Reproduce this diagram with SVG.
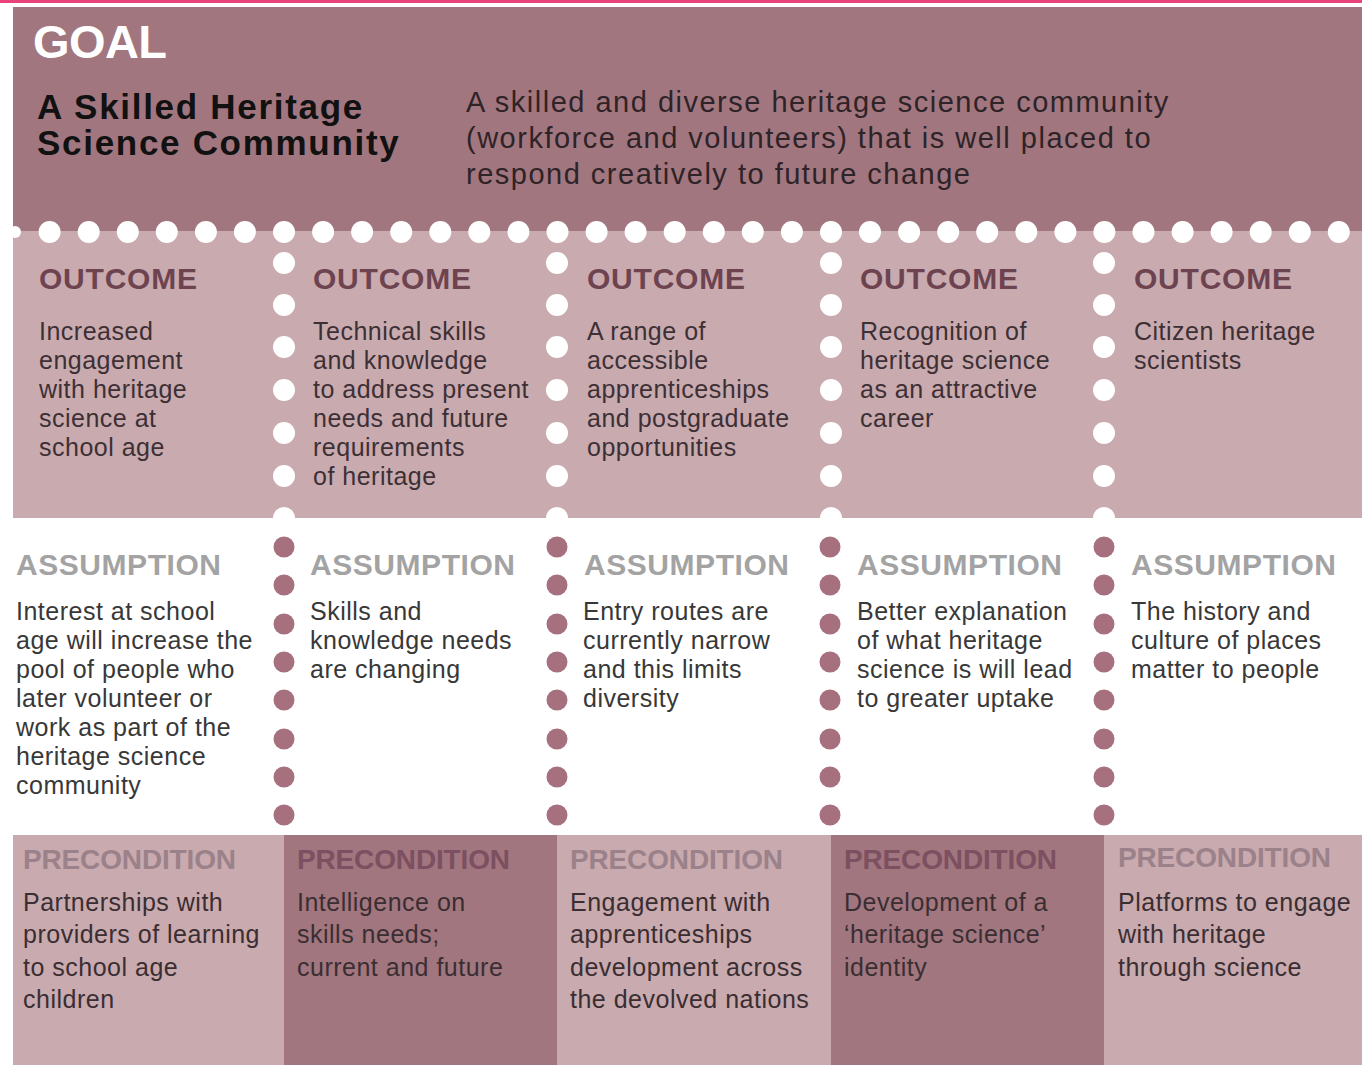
<svg xmlns="http://www.w3.org/2000/svg" width="1362" height="1065" viewBox="0 0 1362 1065">
<style>
text{font-family:"Liberation Sans",Arial,Helvetica,sans-serif}
.goal{font-size:47px;font-weight:bold;fill:#ffffff}
.title{font-size:35px;font-weight:bold;fill:#111111;letter-spacing:1.7px}
.desc{font-size:29px;fill:#2e2326;letter-spacing:1.5px}
.oh{font-size:30px;font-weight:bold;fill:#6d4350}
.ob{font-size:25px;fill:#3d3035;letter-spacing:0.5px}
.ah{font-size:30px;font-weight:bold;fill:#a3a3a3}
.ab{font-size:25px;fill:#383838;letter-spacing:0.5px}
.ph{font-size:28px;font-weight:bold}
.phl{fill:#9b8189}
.phd{fill:#7c5060}
.pb{font-size:25px;fill:#3a2e32;letter-spacing:0.5px}
.light{fill:#c9aaaf}
.dark{fill:#a1767f}
.wd{fill:#ffffff}
.md{fill:#a6707f}
</style>
<rect x="0" y="0" width="1362" height="1065" fill="#ffffff"/>
<rect x="0" y="0" width="1362" height="3" fill="#e8437a"/>

<g id="goal">
<rect class="dark" x="13" y="7" width="1349" height="224"/>
<text class="goal" x="33" y="58" textLength="134">GOAL</text>
<text class="title" x="37" y="119">A Skilled Heritage</text>
<text class="title" x="37" y="155">Science Community</text>
<text class="desc" x="466" y="112">A skilled and diverse heritage science community</text>
<text class="desc" x="466" y="148">(workforce and volunteers) that is well placed to</text>
<text class="desc" x="466" y="184">respond creatively to future change</text>
</g>

<rect class="light" x="13" y="231" width="1349" height="287"/>
<rect fill="#ffffff" x="13" y="518" width="1349" height="317"/>

<g id="outcome-1">
<text class="oh" x="39" y="289" textLength="158">OUTCOME</text>
<text class="ob" x="39" y="340">Increased</text>
<text class="ob" x="39" y="369">engagement</text>
<text class="ob" x="39" y="398">with heritage</text>
<text class="ob" x="39" y="427">science at</text>
<text class="ob" x="39" y="456">school age</text>
</g>
<g id="outcome-2">
<text class="oh" x="313" y="289" textLength="158">OUTCOME</text>
<text class="ob" x="313" y="340">Technical skills</text>
<text class="ob" x="313" y="369">and knowledge</text>
<text class="ob" x="313" y="398">to address present</text>
<text class="ob" x="313" y="427">needs and future</text>
<text class="ob" x="313" y="456">requirements</text>
<text class="ob" x="313" y="485">of heritage</text>
</g>
<g id="outcome-3">
<text class="oh" x="587" y="289" textLength="158">OUTCOME</text>
<text class="ob" x="587" y="340">A range of</text>
<text class="ob" x="587" y="369">accessible</text>
<text class="ob" x="587" y="398">apprenticeships</text>
<text class="ob" x="587" y="427">and postgraduate</text>
<text class="ob" x="587" y="456">opportunities</text>
</g>
<g id="outcome-4">
<text class="oh" x="860" y="289" textLength="158">OUTCOME</text>
<text class="ob" x="860" y="340">Recognition of</text>
<text class="ob" x="860" y="369">heritage science</text>
<text class="ob" x="860" y="398">as an attractive</text>
<text class="ob" x="860" y="427">career</text>
</g>
<g id="outcome-5">
<text class="oh" x="1134" y="289" textLength="158">OUTCOME</text>
<text class="ob" x="1134" y="340">Citizen heritage</text>
<text class="ob" x="1134" y="369">scientists</text>
</g>

<g id="assumption-1">
<text class="ah" x="16" y="575" textLength="205">ASSUMPTION</text>
<text class="ab" x="16" y="620">Interest at school</text>
<text class="ab" x="16" y="649">age will increase the</text>
<text class="ab" x="16" y="678">pool of people who</text>
<text class="ab" x="16" y="707">later volunteer or</text>
<text class="ab" x="16" y="736">work as part of the</text>
<text class="ab" x="16" y="765">heritage science</text>
<text class="ab" x="16" y="794">community</text>
</g>
<g id="assumption-2">
<text class="ah" x="310" y="575" textLength="205">ASSUMPTION</text>
<text class="ab" x="310" y="620">Skills and</text>
<text class="ab" x="310" y="649">knowledge needs</text>
<text class="ab" x="310" y="678">are changing</text>
</g>
<g id="assumption-3">
<text class="ah" x="584" y="575" textLength="205">ASSUMPTION</text>
<text class="ab" x="583" y="620">Entry routes are</text>
<text class="ab" x="583" y="649">currently narrow</text>
<text class="ab" x="583" y="678">and this limits</text>
<text class="ab" x="583" y="707">diversity</text>
</g>
<g id="assumption-4">
<text class="ah" x="857" y="575" textLength="205">ASSUMPTION</text>
<text class="ab" x="857" y="620">Better explanation</text>
<text class="ab" x="857" y="649">of what heritage</text>
<text class="ab" x="857" y="678">science is will lead</text>
<text class="ab" x="857" y="707">to greater uptake</text>
</g>
<g id="assumption-5">
<text class="ah" x="1131" y="575" textLength="205">ASSUMPTION</text>
<text class="ab" x="1131" y="620">The history and</text>
<text class="ab" x="1131" y="649">culture of places</text>
<text class="ab" x="1131" y="678">matter to people</text>
</g>

<g id="precondition-1">
<rect class="light" x="13" y="835" width="271" height="230"/>
<text class="ph phl" x="23" y="869" textLength="213">PRECONDITION</text>
<text class="pb" x="23" y="911">Partnerships with</text>
<text class="pb" x="23" y="943">providers of learning</text>
<text class="pb" x="23" y="976">to school age</text>
<text class="pb" x="23" y="1008">children</text>
</g>
<g id="precondition-2">
<rect class="dark" x="284" y="835" width="273" height="230"/>
<text class="ph phd" x="297" y="869" textLength="213">PRECONDITION</text>
<text class="pb" x="297" y="911">Intelligence on</text>
<text class="pb" x="297" y="943">skills needs;</text>
<text class="pb" x="297" y="976">current and future</text>
</g>
<g id="precondition-3">
<rect class="light" x="557" y="835" width="274" height="230"/>
<text class="ph phl" x="570" y="869" textLength="213">PRECONDITION</text>
<text class="pb" x="570" y="911">Engagement with</text>
<text class="pb" x="570" y="943">apprenticeships</text>
<text class="pb" x="570" y="976">development across</text>
<text class="pb" x="570" y="1008">the devolved nations</text>
</g>
<g id="precondition-4">
<rect class="dark" x="831" y="835" width="273" height="230"/>
<text class="ph phd" x="844" y="869" textLength="213">PRECONDITION</text>
<text class="pb" x="844" y="911">Development of a</text>
<text class="pb" x="844" y="943">‘heritage science’</text>
<text class="pb" x="844" y="976">identity</text>
</g>
<g id="precondition-5">
<rect class="light" x="1104" y="835" width="258" height="230"/>
<text class="ph phl" x="1118" y="867" textLength="213">PRECONDITION</text>
<text class="pb" x="1118" y="911">Platforms to engage</text>
<text class="pb" x="1118" y="943">with heritage</text>
<text class="pb" x="1118" y="976">through science</text>
</g>

<g id="connectors">
<g class="wd">
<circle cx="49.6" cy="232" r="11"/><circle cx="88.7" cy="232" r="11"/><circle cx="127.8" cy="232" r="11"/><circle cx="166.8" cy="232" r="11"/><circle cx="205.9" cy="232" r="11"/><circle cx="244.9" cy="232" r="11"/><circle cx="284" cy="232" r="11"/>
<circle cx="323.1" cy="232" r="11"/><circle cx="362.1" cy="232" r="11"/><circle cx="401.2" cy="232" r="11"/><circle cx="440.3" cy="232" r="11"/><circle cx="479.3" cy="232" r="11"/><circle cx="518.4" cy="232" r="11"/><circle cx="557.5" cy="232" r="11"/>
<circle cx="596.6" cy="232" r="11"/><circle cx="635.6" cy="232" r="11"/><circle cx="674.7" cy="232" r="11"/><circle cx="713.8" cy="232" r="11"/><circle cx="752.8" cy="232" r="11"/><circle cx="791.9" cy="232" r="11"/><circle cx="831" cy="232" r="11"/>
<circle cx="870" cy="232" r="11"/><circle cx="909.1" cy="232" r="11"/><circle cx="948.2" cy="232" r="11"/><circle cx="987.2" cy="232" r="11"/><circle cx="1026.3" cy="232" r="11"/><circle cx="1065.4" cy="232" r="11"/><circle cx="1104.4" cy="232" r="11"/>
<circle cx="1143.5" cy="232" r="11"/><circle cx="1182.6" cy="232" r="11"/><circle cx="1221.6" cy="232" r="11"/><circle cx="1260.7" cy="232" r="11"/><circle cx="1299.8" cy="232" r="11"/><circle cx="1338.8" cy="232" r="11"/>
<circle cx="15" cy="232" r="6"/>
</g>
<g class="wd">
<circle cx="284" cy="263" r="11"/><circle cx="284" cy="305" r="11"/><circle cx="284" cy="347" r="11"/><circle cx="284" cy="390" r="11"/><circle cx="284" cy="433" r="11"/><circle cx="284" cy="476" r="11"/><circle cx="284" cy="518" r="11"/>
<circle cx="557" cy="263" r="11"/><circle cx="557" cy="305" r="11"/><circle cx="557" cy="347" r="11"/><circle cx="557" cy="390" r="11"/><circle cx="557" cy="433" r="11"/><circle cx="557" cy="476" r="11"/><circle cx="557" cy="518" r="11"/>
<circle cx="831" cy="263" r="11"/><circle cx="831" cy="305" r="11"/><circle cx="831" cy="347" r="11"/><circle cx="831" cy="390" r="11"/><circle cx="831" cy="433" r="11"/><circle cx="831" cy="476" r="11"/><circle cx="831" cy="518" r="11"/>
<circle cx="1104" cy="263" r="11"/><circle cx="1104" cy="305" r="11"/><circle cx="1104" cy="347" r="11"/><circle cx="1104" cy="390" r="11"/><circle cx="1104" cy="433" r="11"/><circle cx="1104" cy="476" r="11"/><circle cx="1104" cy="518" r="11"/>
</g>
<g class="md">
<circle cx="284" cy="547" r="10.5"/><circle cx="284" cy="585" r="10.5"/><circle cx="284" cy="624" r="10.5"/><circle cx="284" cy="662" r="10.5"/><circle cx="284" cy="700" r="10.5"/><circle cx="284" cy="739" r="10.5"/><circle cx="284" cy="777" r="10.5"/><circle cx="284" cy="815" r="10.5"/>
<circle cx="557" cy="547" r="10.5"/><circle cx="557" cy="585" r="10.5"/><circle cx="557" cy="624" r="10.5"/><circle cx="557" cy="662" r="10.5"/><circle cx="557" cy="700" r="10.5"/><circle cx="557" cy="739" r="10.5"/><circle cx="557" cy="777" r="10.5"/><circle cx="557" cy="815" r="10.5"/>
<circle cx="830" cy="547" r="10.5"/><circle cx="830" cy="585" r="10.5"/><circle cx="830" cy="624" r="10.5"/><circle cx="830" cy="662" r="10.5"/><circle cx="830" cy="700" r="10.5"/><circle cx="830" cy="739" r="10.5"/><circle cx="830" cy="777" r="10.5"/><circle cx="830" cy="815" r="10.5"/>
<circle cx="1104" cy="547" r="10.5"/><circle cx="1104" cy="585" r="10.5"/><circle cx="1104" cy="624" r="10.5"/><circle cx="1104" cy="662" r="10.5"/><circle cx="1104" cy="700" r="10.5"/><circle cx="1104" cy="739" r="10.5"/><circle cx="1104" cy="777" r="10.5"/><circle cx="1104" cy="815" r="10.5"/>
</g>
</g>
</svg>
